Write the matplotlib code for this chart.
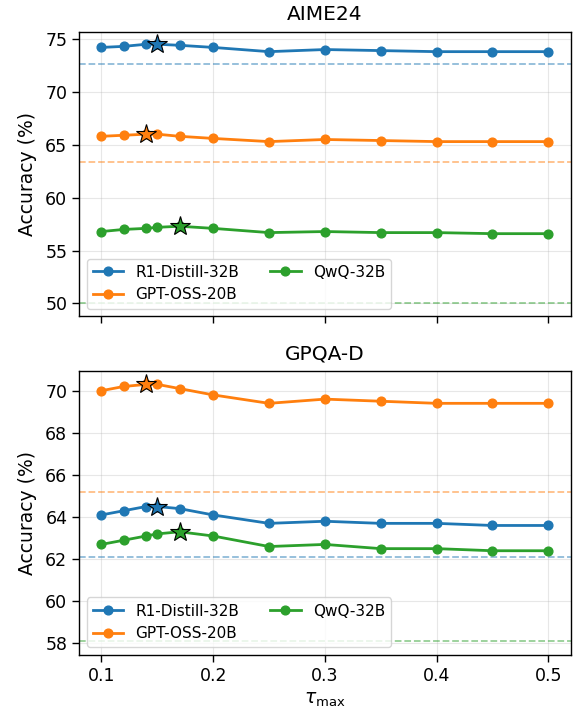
import matplotlib
matplotlib.use("Agg")
import matplotlib.pyplot as plt
import numpy as np

tau = [0.10, 0.12, 0.14, 0.15, 0.17, 0.20, 0.25, 0.30, 0.35, 0.40, 0.45, 0.50]
models = ["R1-Distill-32B", "GPT-OSS-20B", "QwQ-32B"]
colors = ["#1f77b4", "#ff7f0e", "#2ca02c"]

aime_r1 = [74.2, 74.3, 74.5, 74.5, 74.4, 74.2, 73.8, 74.0, 73.9, 73.8, 73.8, 73.8]
aime_gpt = [65.8, 65.9, 66.0, 66.0, 65.8, 65.6, 65.3, 65.5, 65.4, 65.3, 65.3, 65.3]
aime_qwq = [56.8, 57.0, 57.1, 57.2, 57.3, 57.1, 56.7, 56.8, 56.7, 56.7, 56.6, 56.6]
aime_base = [72.6, 63.4, 50.0]
aime_best_tau = [0.15, 0.14, 0.17]

gpqa_r1 = [64.1, 64.3, 64.5, 64.5, 64.4, 64.1, 63.7, 63.8, 63.7, 63.7, 63.6, 63.6]
gpqa_gpt = [70.0, 70.2, 70.3, 70.3, 70.1, 69.8, 69.4, 69.6, 69.5, 69.4, 69.4, 69.4]
gpqa_qwq = [62.7, 62.9, 63.1, 63.2, 63.3, 63.1, 62.6, 62.7, 62.5, 62.5, 62.4, 62.4]
gpqa_base = [62.1, 65.2, 58.1]
gpqa_best_tau = [0.15, 0.14, 0.17]

panels = [
    ("AIME24", [aime_r1, aime_gpt, aime_qwq], aime_base, aime_best_tau, (48.8, 75.7), [50, 55, 60, 65, 70, 75]),
    ("GPQA-D", [gpqa_r1, gpqa_gpt, gpqa_qwq], gpqa_base, gpqa_best_tau, (57.45, 70.95), [58, 60, 62, 64, 66, 68, 70]),
]

fig = plt.figure(figsize=(5.73, 7.17), dpi=100)
ax1 = fig.add_axes([0.138, 0.559, 0.858, 0.397])
ax2 = fig.add_axes([0.138, 0.0865, 0.858, 0.3965], sharex=ax1)
axes = [ax1, ax2]

for ax, (title, series, base, best, ylim, yt) in zip(axes, panels):
    for name, vals, c, b, bt in zip(models, series, colors, base, best):
        ax.plot(tau, vals, "-o", color=c, lw=2, ms=6.3, label=name, zorder=3)
        ax.axhline(b, color=c, ls="--", lw=1.3, alpha=0.5, zorder=2)
        i = tau.index(bt)
        ax.plot([tau[i]], [vals[i]], marker="*", ms=15, color=c,
                markeredgecolor="black", markeredgewidth=0.8, zorder=4, ls="none")
    ax.set_title(title, fontsize=14.5, pad=8)
    ax.set_ylabel("Accuracy (%)", fontsize=13.5, labelpad=6)
    ax.set_ylim(*ylim)
    ax.set_yticks(yt)
    ax.grid(True, alpha=0.3)
    ax.tick_params(labelsize=12.5, length=5, width=1.0)
    for s in ax.spines.values():
        s.set_linewidth(1.0)
    ax.legend(loc="lower left", ncol=2, fontsize=11, borderaxespad=0.5)

ax1.set_xlim(0.08, 0.52)
ax1.set_xticks([0.1, 0.2, 0.3, 0.4, 0.5])
plt.setp(ax1.get_xticklabels(), visible=False)
ax2.set_xlabel(r"$\tau_{\max}$", fontsize=13.5)

fig.savefig("out.png", dpi=100)
